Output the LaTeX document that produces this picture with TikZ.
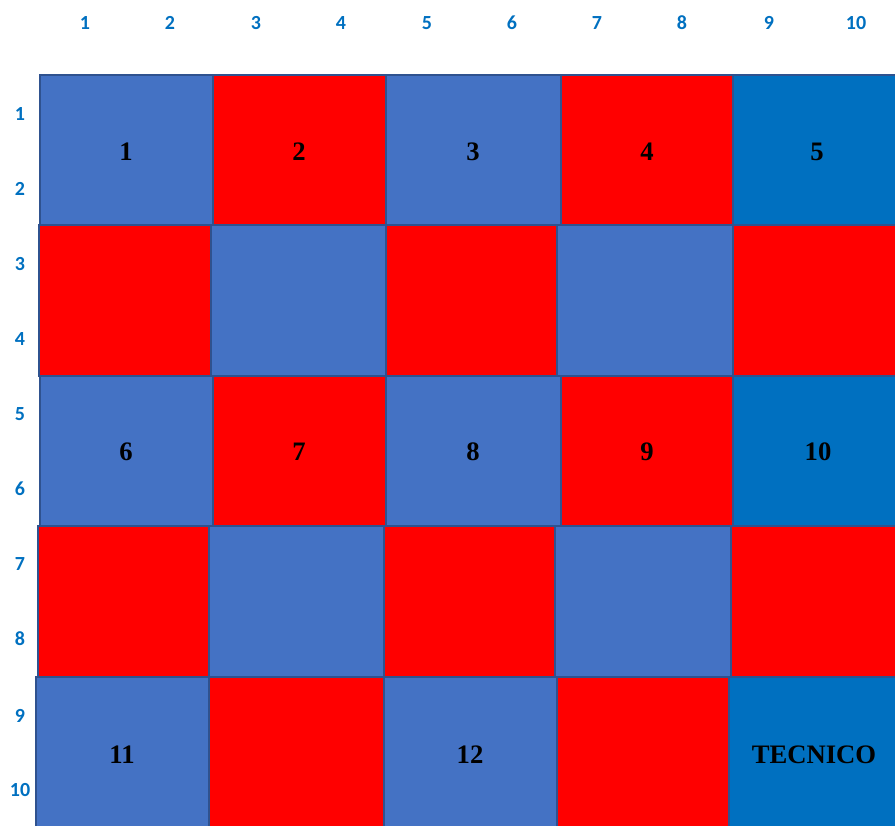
\documentclass[tikz,border=0pt]{standalone}
\usepackage{fontspec}
\setmainfont{Liberation Serif}
\newfontfamily\lblfont{Carlito}
\definecolor{cellblue}{RGB}{68,114,196}
\definecolor{cellred}{RGB}{255,0,0}
\definecolor{celldark}{RGB}{0,112,192}
\definecolor{celledge}{RGB}{47,82,143}
\definecolor{lblblue}{RGB}{0,112,192}
\tikzset{
  cellbox/.style={draw=celledge, line width=1.9pt},
  bluecell/.style={cellbox, fill=cellblue},
  redcell/.style={cellbox, fill=cellred},
  darkcell/.style={cellbox, fill=celldark},
  seatnum/.style={font=\bfseries\fontsize{20}{24}\selectfont, text=black},
  axislbl/.style={font=\lblfont\bfseries\fontsize{15}{17}\selectfont, text=lblblue}
}

\begin{document}
\begin{tikzpicture}[x=0.75pt,y=-0.75pt]
\useasboundingbox (0,0) rectangle (895,825);
% row 1
\path[bluecell] (40,75) rectangle (213,225);
\path[redcell] (213,75) rectangle (386,225);
\path[bluecell] (386,75) rectangle (561,225);
\path[redcell] (561,75) rectangle (733,225);
\path[darkcell] (733,75) rectangle (897,225);
% row 2
\path[redcell] (39,225) rectangle (211,376);
\path[bluecell] (211,225) rectangle (386,376);
\path[redcell] (386,225) rectangle (557,376);
\path[bluecell] (557,225) rectangle (733,376);
\path[redcell] (733,225) rectangle (897,376);
% row 3
\path[bluecell] (40,376) rectangle (213,526);
\path[redcell] (213,376) rectangle (386,526);
\path[bluecell] (386,376) rectangle (561,526);
\path[redcell] (561,376) rectangle (733,526);
\path[darkcell] (733,376) rectangle (897,526);
% row 4
\path[redcell] (38,526) rectangle (209,677);
\path[bluecell] (209,526) rectangle (384,677);
\path[redcell] (384,526) rectangle (555,677);
\path[bluecell] (555,526) rectangle (731,677);
\path[redcell] (731,526) rectangle (897,677);
% row 5
\path[bluecell] (36,677) rectangle (209,827);
\path[redcell] (209,677) rectangle (384,827);
\path[bluecell] (384,677) rectangle (557,827);
\path[redcell] (557,677) rectangle (729,827);
\path[darkcell] (729,677) rectangle (897,827);

% seat numbers
\node[seatnum] (s1) at (126,152) {1};
\node[seatnum] (s2) at (299,152) {2};
\node[seatnum] (s3) at (473,152) {3};
\node[seatnum] (s4) at (647,152) {4};
\node[seatnum] (s5) at (817,152) {5};
\node[seatnum] (s6) at (126,452) {6};
\node[seatnum] (s7) at (299,452) {7};
\node[seatnum] (s8) at (473,452) {8};
\node[seatnum] (s9) at (647,452) {9};
\node[seatnum] (s10) at (818,452) {10};
\node[seatnum] (s11) at (122,755) {11};
\node[seatnum] (s12) at (470,755) {12};
\node[seatnum] (tec) at (814,755) {TECNICO};

% axis labels
\foreach \i/\x in {1/85,2/170,3/256,4/341,5/427,6/512,7/597,8/682,9/769,10/856}
  \node[axislbl] (col\i) at (\x,23) {\i};
\foreach \i/\y in {1/114,2/189,3/264,4/339,5/414,6/489,7/564,8/639,9/716,10/790}
  \node[axislbl] (row\i) at (20,\y) {\i};
\end{tikzpicture}
\end{document}
